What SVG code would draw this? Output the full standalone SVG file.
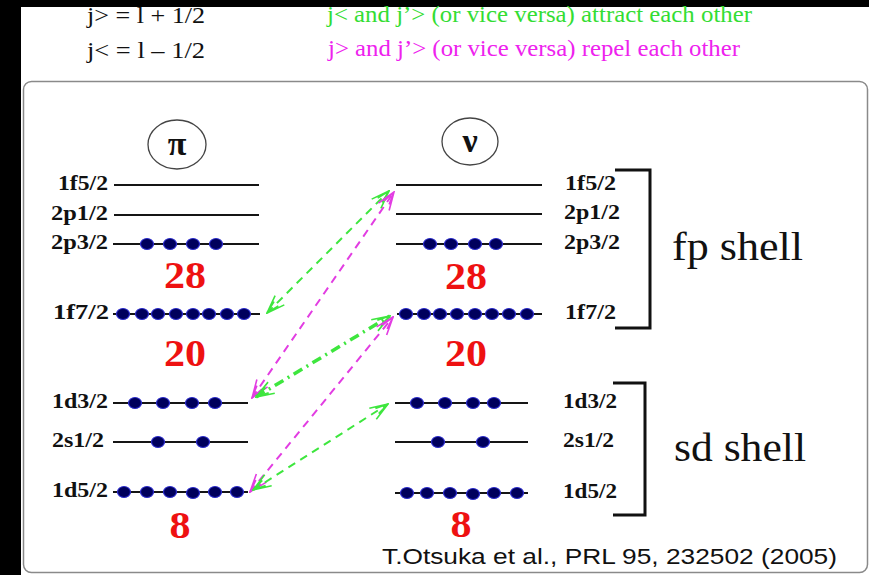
<svg xmlns="http://www.w3.org/2000/svg" width="869" height="575" viewBox="0 0 869 575">
  <style>
    .lvl { stroke: #151515; stroke-width: 2; fill: none; }
    .dot { fill: #00005c; stroke: #2a2acc; stroke-width: 1.2; }
    .lab { font-family: "Liberation Serif", "Times New Roman", serif; font-weight: bold; font-size: 20px; fill: #111; }
    .magic { font-family: "Liberation Serif", "Times New Roman", serif; font-weight: bold; font-size: 38px; fill: #ee1111; text-anchor: middle; }
    .shell { font-family: "Liberation Serif", "Times New Roman", serif; font-size: 40px; fill: #111; }
    .note { font-family: "Liberation Serif", "Times New Roman", serif; font-size: 23px; }
    .br { stroke: #111; stroke-width: 3; fill: none; }
    .att { stroke: #3ee63e; stroke-width: 2; fill: none; stroke-dasharray: 8 6; }
    .att-strong { stroke: #3ee63e; stroke-width: 3.5; fill: none; stroke-dasharray: 10 5 2 5; }
    .rep { stroke: #e23de2; stroke-width: 2; fill: none; stroke-dasharray: 8 6; }
  </style>
  <defs>
    <marker id="headG" viewBox="0 0 20 16" refX="19" refY="8" markerWidth="20" markerHeight="16" markerUnits="userSpaceOnUse" orient="auto-start-reverse">
      <path d="M1,1.5 L19,8 L1,14.5 M6,5 L19,8 L6,11" fill="none" stroke="#3ee63e" stroke-width="1.6"/>
    </marker>
    <marker id="headM" viewBox="0 0 20 16" refX="19" refY="8" markerWidth="20" markerHeight="16" markerUnits="userSpaceOnUse" orient="auto-start-reverse">
      <path d="M1,1.5 L19,8 L1,14.5 M6,5 L19,8 L6,11" fill="none" stroke="#e23de2" stroke-width="1.6"/>
    </marker>
  </defs>

  <!-- page background and frame -->
  <rect x="0" y="0" width="869" height="575" fill="#000"/>
  <rect x="21" y="7" width="848" height="568" fill="#fff"/>
  <rect x="23.5" y="81.5" width="844" height="491" rx="8" fill="#fff" stroke="#8a8a8a" stroke-width="1.5"/>

  <!-- legend -->
  <g id="legend">
    <text class="note" x="87" y="23" fill="#111" textLength="118" lengthAdjust="spacingAndGlyphs">j&gt; = l + 1/2</text>
    <text class="note" x="87" y="58" fill="#111" textLength="118" lengthAdjust="spacingAndGlyphs">j&lt; = l – 1/2</text>
    <text class="note" x="327" y="22" fill="#33dd33" textLength="425" lengthAdjust="spacingAndGlyphs">j&lt; and j’&gt; (or vice versa) attract each other</text>
    <text class="note" x="328" y="56" fill="#ee22ee" textLength="412" lengthAdjust="spacingAndGlyphs">j&gt; and j’&gt; (or vice versa) repel each other</text>
  </g>

  <!-- proton levels -->
  <g id="proton">
    <ellipse cx="177" cy="144.5" rx="29" ry="24.5" fill="#fff" stroke="#444" stroke-width="1.3"/>
    <text x="177" y="155" font-family="Liberation Serif, serif" font-weight="bold" font-size="34" text-anchor="middle" fill="#111">π</text>

    <text class="lab" x="108" y="190" text-anchor="end" textLength="50" lengthAdjust="spacingAndGlyphs">1f5/2</text>
    <line class="lvl" x1="114" y1="185" x2="259" y2="185"/>

    <text class="lab" x="108" y="220" text-anchor="end" textLength="57" lengthAdjust="spacingAndGlyphs">2p1/2</text>
    <line class="lvl" x1="114" y1="215" x2="259" y2="215"/>

    <text class="lab" x="108" y="249" text-anchor="end" textLength="57" lengthAdjust="spacingAndGlyphs">2p3/2</text>
    <line class="lvl" x1="113" y1="244" x2="259" y2="244"/>
    <g>
      <ellipse class="dot" cx="147" cy="244" rx="6.5" ry="5.5"/>
      <ellipse class="dot" cx="170" cy="244" rx="6.5" ry="5.5"/>
      <ellipse class="dot" cx="193" cy="244" rx="6.5" ry="5.5"/>
      <ellipse class="dot" cx="216" cy="244" rx="6.5" ry="5.5"/>
    </g>

    <text class="magic" x="185" y="288" textLength="42" lengthAdjust="spacingAndGlyphs">28</text>

    <text class="lab" x="109" y="319" text-anchor="end" textLength="56" lengthAdjust="spacingAndGlyphs">1f7/2</text>
    <line class="lvl" x1="113" y1="314" x2="260" y2="314"/>
    <g>
      <ellipse class="dot" cx="123" cy="314" rx="6.5" ry="5.5"/>
      <ellipse class="dot" cx="142" cy="314" rx="6.5" ry="5.5"/>
      <ellipse class="dot" cx="158" cy="314" rx="6.5" ry="5.5"/>
      <ellipse class="dot" cx="176" cy="314" rx="6.5" ry="5.5"/>
      <ellipse class="dot" cx="193" cy="314" rx="6.5" ry="5.5"/>
      <ellipse class="dot" cx="209" cy="314" rx="6.5" ry="5.5"/>
      <ellipse class="dot" cx="227" cy="314" rx="6.5" ry="5.5"/>
      <ellipse class="dot" cx="244" cy="314" rx="6.5" ry="5.5"/>
    </g>

    <text class="magic" x="185" y="366" textLength="42" lengthAdjust="spacingAndGlyphs">20</text>

    <text class="lab" x="108" y="408" text-anchor="end" textLength="56" lengthAdjust="spacingAndGlyphs">1d3/2</text>
    <line class="lvl" x1="113" y1="403" x2="248" y2="403"/>
    <g>
      <ellipse class="dot" cx="135" cy="403" rx="6.5" ry="5.5"/>
      <ellipse class="dot" cx="163" cy="403" rx="6.5" ry="5.5"/>
      <ellipse class="dot" cx="192" cy="403" rx="6.5" ry="5.5"/>
      <ellipse class="dot" cx="215" cy="403" rx="6.5" ry="5.5"/>
    </g>

    <text class="lab" x="104" y="447" text-anchor="end" textLength="52" lengthAdjust="spacingAndGlyphs">2s1/2</text>
    <line class="lvl" x1="113" y1="442" x2="248" y2="442"/>
    <g>
      <ellipse class="dot" cx="158" cy="442" rx="6.5" ry="5.5"/>
      <ellipse class="dot" cx="203" cy="442" rx="6.5" ry="5.5"/>
    </g>

    <text class="lab" x="108" y="497" text-anchor="end" textLength="56" lengthAdjust="spacingAndGlyphs">1d5/2</text>
    <line class="lvl" x1="113" y1="492" x2="248" y2="492"/>
    <g>
      <ellipse class="dot" cx="124" cy="492" rx="6.5" ry="5.5"/>
      <ellipse class="dot" cx="147" cy="492" rx="6.5" ry="5.5"/>
      <ellipse class="dot" cx="170" cy="492" rx="6.5" ry="5.5"/>
      <ellipse class="dot" cx="193" cy="493" rx="6.5" ry="5.5"/>
      <ellipse class="dot" cx="215" cy="492" rx="6.5" ry="5.5"/>
      <ellipse class="dot" cx="237" cy="492" rx="6.5" ry="5.5"/>
    </g>

    <text class="magic" x="180" y="538" textLength="21" lengthAdjust="spacingAndGlyphs">8</text>
  </g>

  <!-- neutron levels -->
  <g id="neutron">
    <ellipse cx="470" cy="141.5" rx="28" ry="23.5" fill="#fff" stroke="#444" stroke-width="1.3"/>
    <text x="470" y="152" font-family="Liberation Serif, serif" font-weight="bold" font-size="34" text-anchor="middle" fill="#111">ν</text>

    <line class="lvl" x1="396" y1="185" x2="542" y2="185"/>
    <text class="lab" x="565" y="190" textLength="51" lengthAdjust="spacingAndGlyphs">1f5/2</text>

    <line class="lvl" x1="396" y1="214" x2="542" y2="214"/>
    <text class="lab" x="564" y="219" textLength="56" lengthAdjust="spacingAndGlyphs">2p1/2</text>

    <line class="lvl" x1="396" y1="244" x2="542" y2="244"/>
    <text class="lab" x="564" y="249" textLength="56" lengthAdjust="spacingAndGlyphs">2p3/2</text>
    <g>
      <ellipse class="dot" cx="430" cy="244" rx="6.5" ry="5.5"/>
      <ellipse class="dot" cx="451" cy="244" rx="6.5" ry="5.5"/>
      <ellipse class="dot" cx="475" cy="244" rx="6.5" ry="5.5"/>
      <ellipse class="dot" cx="496" cy="244" rx="6.5" ry="5.5"/>
    </g>

    <text class="magic" x="466" y="289" textLength="42" lengthAdjust="spacingAndGlyphs">28</text>

    <line class="lvl" x1="397" y1="314" x2="542" y2="314"/>
    <text class="lab" x="565" y="319" textLength="51" lengthAdjust="spacingAndGlyphs">1f7/2</text>
    <g>
      <ellipse class="dot" cx="406" cy="314" rx="6.5" ry="5.5"/>
      <ellipse class="dot" cx="424" cy="314" rx="6.5" ry="5.5"/>
      <ellipse class="dot" cx="440" cy="314" rx="6.5" ry="5.5"/>
      <ellipse class="dot" cx="457" cy="314" rx="6.5" ry="5.5"/>
      <ellipse class="dot" cx="475" cy="314" rx="6.5" ry="5.5"/>
      <ellipse class="dot" cx="492" cy="314" rx="6.5" ry="5.5"/>
      <ellipse class="dot" cx="509" cy="314" rx="6.5" ry="5.5"/>
      <ellipse class="dot" cx="527" cy="314" rx="6.5" ry="5.5"/>
    </g>

    <text class="magic" x="466" y="366" textLength="42" lengthAdjust="spacingAndGlyphs">20</text>

    <line class="lvl" x1="395" y1="403" x2="528" y2="403"/>
    <text class="lab" x="563" y="408" textLength="54" lengthAdjust="spacingAndGlyphs">1d3/2</text>
    <g>
      <ellipse class="dot" cx="417" cy="403" rx="6.5" ry="5.5"/>
      <ellipse class="dot" cx="445" cy="403" rx="6.5" ry="5.5"/>
      <ellipse class="dot" cx="473" cy="403" rx="6.5" ry="5.5"/>
      <ellipse class="dot" cx="494" cy="403" rx="6.5" ry="5.5"/>
    </g>

    <line class="lvl" x1="395" y1="442" x2="528" y2="442"/>
    <text class="lab" x="563" y="447" textLength="51" lengthAdjust="spacingAndGlyphs">2s1/2</text>
    <g>
      <ellipse class="dot" cx="438" cy="442" rx="6.5" ry="5.5"/>
      <ellipse class="dot" cx="483" cy="442" rx="6.5" ry="5.5"/>
    </g>

    <line class="lvl" x1="395" y1="493" x2="528" y2="493"/>
    <text class="lab" x="563" y="498" textLength="54" lengthAdjust="spacingAndGlyphs">1d5/2</text>
    <g>
      <ellipse class="dot" cx="407" cy="493" rx="6.5" ry="5.5"/>
      <ellipse class="dot" cx="427" cy="493" rx="6.5" ry="5.5"/>
      <ellipse class="dot" cx="450" cy="493" rx="6.5" ry="5.5"/>
      <ellipse class="dot" cx="473" cy="494" rx="6.5" ry="5.5"/>
      <ellipse class="dot" cx="494" cy="493" rx="6.5" ry="5.5"/>
      <ellipse class="dot" cx="517" cy="493" rx="6.5" ry="5.5"/>
    </g>

    <text class="magic" x="461" y="537" textLength="21" lengthAdjust="spacingAndGlyphs">8</text>
  </g>

  <!-- shell brackets -->
  <g id="fp-shell">
    <path class="br" d="M615,170 H650 V328 H615"/>
    <text class="shell" x="672" y="260" textLength="131" lengthAdjust="spacingAndGlyphs">fp shell</text>
  </g>
  <g id="sd-shell">
    <path class="br" d="M613,383 H645 V515 H613"/>
    <text class="shell" x="674" y="461" textLength="132" lengthAdjust="spacingAndGlyphs">sd shell</text>
  </g>

  <!-- interaction arrows between proton and neutron orbits -->
  <g id="connectors">
    <line class="att" x1="267" y1="313" x2="389" y2="191" marker-start="url(#headG)" marker-end="url(#headG)"/>
    <line class="rep" x1="252" y1="398" x2="394" y2="192" marker-start="url(#headM)" marker-end="url(#headM)"/>
    <line class="att-strong" x1="256" y1="397" x2="390" y2="316" marker-start="url(#headG)" marker-end="url(#headG)"/>
    <line class="rep" x1="250" y1="492" x2="393" y2="317" marker-start="url(#headM)" marker-end="url(#headM)"/>
    <line class="att" x1="253" y1="490" x2="388" y2="404" marker-start="url(#headG)" marker-end="url(#headG)"/>
  </g>

  <!-- reference -->
  <text id="citation" x="382" y="564" font-family="Liberation Sans, Arial, sans-serif" font-size="22" fill="#111" textLength="455" lengthAdjust="spacingAndGlyphs">T.Otsuka et al., PRL 95, 232502 (2005)</text>
</svg>
